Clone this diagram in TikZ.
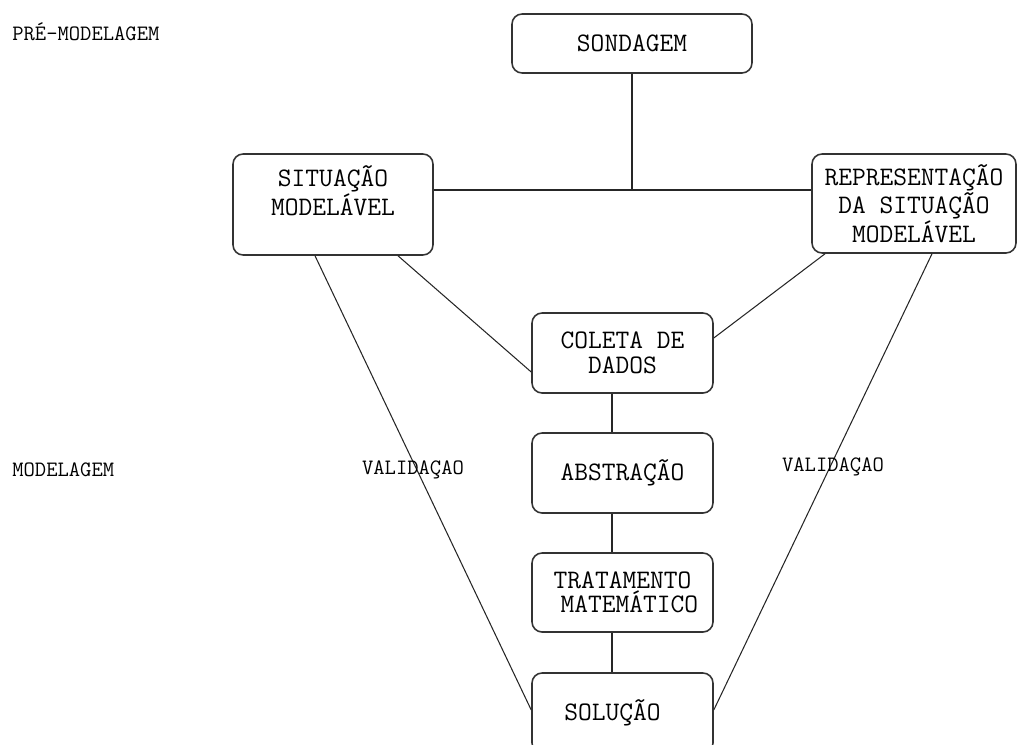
\documentclass[tikz,border=0pt]{standalone}
\usepackage{fontspec}
\usepackage{tikz}
\usetikzlibrary{calc,positioning}
\tikzset{
    etapa/.style={
        draw=black!80,line width=0.9pt,rounded corners=0.2cm,
        align=center,inner sep=0pt,
        font=\ttfamily\fontsize{15.2}{14}\selectfont
    },
    rotulo/.style={
        align=left,inner sep=0pt,font=\ttfamily\fontsize{12.5}{13}\selectfont
    },
    ligacao/.style={
        draw=black!85,line width=0.6pt
    }
}
\begin{document}
\begin{tikzpicture}[x=0.02cm,y=-0.02cm]

\clip (0,0) rectangle (1017,744);

% fases
\node[rotulo,anchor=west] (pre) at (12,32) {PRÉ-MODELAGEM};
\node[rotulo,anchor=west] (mod) at (12,470) {MODELAGEM};

% etapas
\node[etapa,minimum width=4.8cm,minimum height=1.18cm] (sond) at (632,43.5) {SONDAGEM};
\node[etapa,minimum width=4cm,minimum height=2.02cm] (sit) at (333,204.5)
{SITUAÇÃO\\MODELÁVEL\\[0.08cm]};
\node[etapa,minimum width=4.08cm,minimum height=1.98cm] (rep) at (914,203.5)
{REPRESENTAÇÃO\\DA SITUAÇÃO\\MODELÁVEL};
\node[etapa,minimum width=3.62cm,minimum height=1.6cm] (col) at (622.5,353)
{COLETA DE\\DADOS};
\node[etapa,minimum width=3.62cm,minimum height=1.6cm] (abs) at (622.5,473) {ABSTRAÇÃO};
\node[etapa,minimum width=3.62cm,minimum height=1.58cm] (trat) at (622.5,592.5)
{TRATAMENTO\\\ MATEMÁTICO};
\node[etapa,minimum width=3.62cm,minimum height=1.6cm] (sol) at (622.5,713) {SOLUÇÃO\hspace{0.4cm}};

\coordinate (eixo) at (632,190);

% ligacoes
\draw[ligacao] (sond.south) -- (eixo);
\draw[ligacao] (sit.east |- eixo) -- (rep.west |- eixo);
\draw[ligacao] ([xshift=1.3cm]sit.south) -- ([yshift=-0.38cm]col.west);
\draw[ligacao] ([xshift=-1.78cm]rep.south) -- ([yshift=0.3cm]col.east);
\draw[ligacao] ([xshift=-0.36cm]sit.south) -- ([yshift=0.06cm]sol.west);
\draw[ligacao] ([xshift=0.36cm]rep.south) -- ([yshift=0.06cm]sol.east);
\draw[ligacao] ([xshift=-0.21cm]col.south) -- ([xshift=-0.21cm]abs.north);
\draw[ligacao] ([xshift=-0.21cm]abs.south) -- ([xshift=-0.21cm]trat.north);
\draw[ligacao] ([xshift=-0.21cm]trat.south) -- ([xshift=-0.21cm]sol.north);

% validacao
\node[rotulo] (val1) at (413,470) {VALIDAÇAO};
\node[rotulo] (val2) at (833,467) {VALIDAÇAO};

\end{tikzpicture}
\end{document}
